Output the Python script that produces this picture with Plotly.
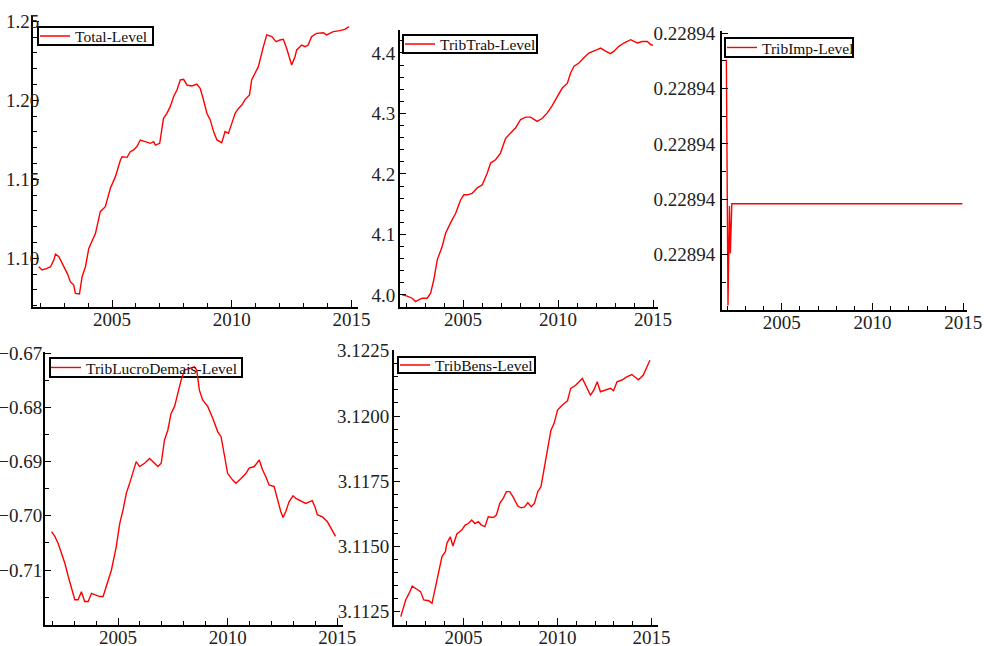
import plotly.graph_objects as go

# ---------------- data ----------------
series_names = ["Total-Level", "TribTrab-Level", "TribImp-Level",
                "TribLucroDemais-Level", "TribBens-Level"]

total_year = [2001.94, 2002.08, 2002.29, 2002.43, 2002.57, 2002.64, 2002.78, 2002.99,
              2003.13, 2003.26, 2003.40, 2003.47, 2003.64, 2003.75, 2003.89, 2004.03,
              2004.17, 2004.31, 2004.51, 2004.72, 2004.93, 2005.14, 2005.35, 2005.42,
              2005.63, 2005.76, 2005.90, 2006.04, 2006.18, 2006.46, 2006.60, 2006.74,
              2006.81, 2006.99, 2007.15, 2007.29, 2007.43, 2007.57, 2007.71, 2007.85,
              2007.99, 2008.13, 2008.33, 2008.54, 2008.68, 2008.82, 2008.96, 2009.10,
              2009.24, 2009.38, 2009.58, 2009.72, 2009.86, 2010.00, 2010.14, 2010.28,
              2010.42, 2010.56, 2010.74, 2010.83, 2010.97, 2011.11, 2011.32, 2011.46,
              2011.67, 2011.85, 2012.01, 2012.15, 2012.29, 2012.43, 2012.50, 2012.64,
              2012.71, 2012.92, 2013.06, 2013.19, 2013.33, 2013.54, 2013.82, 2013.96,
              2014.24, 2014.51, 2014.72, 2014.89]
total_level = [1.0947, 1.0926, 1.0937, 1.0947, 1.0989, 1.1027, 1.1011, 1.0947,
               1.0905, 1.0852, 1.0831, 1.0778, 1.0774, 1.0884, 1.0947, 1.1063,
               1.1116, 1.1158, 1.1295, 1.1327, 1.1443, 1.1517, 1.1622, 1.1643,
               1.1639, 1.1675, 1.1686, 1.1707, 1.1749, 1.1738, 1.1728, 1.1738,
               1.1717, 1.1728, 1.1886, 1.1918, 1.1960, 1.2023, 1.2065, 1.2129,
               1.2133, 1.2097, 1.2091, 1.2103, 1.2076, 1.2002, 1.1918, 1.1876,
               1.1802, 1.1749, 1.1732, 1.1802, 1.1791, 1.1854, 1.1918, 1.1949,
               1.1970, 1.2006, 1.2034, 1.2129, 1.2171, 1.2213, 1.2340, 1.2414,
               1.2403, 1.2371, 1.2382, 1.2386, 1.2329, 1.2255, 1.2224, 1.2276,
               1.2319, 1.2350, 1.2340, 1.2350, 1.2403, 1.2424, 1.2428, 1.2414,
               1.2435, 1.2441, 1.2449, 1.2466]

trab_year = [2001.80, 2002.06, 2002.32, 2002.50, 2002.68, 2002.85, 2003.11, 2003.29,
             2003.46, 2003.64, 2003.90, 2004.08, 2004.34, 2004.61, 2004.87, 2005.04,
             2005.22, 2005.48, 2005.75, 2006.01, 2006.27, 2006.45, 2006.71, 2006.97,
             2007.24, 2007.50, 2007.76, 2008.03, 2008.29, 2008.55, 2008.73, 2008.90,
             2009.17, 2009.43, 2009.69, 2009.96, 2010.22, 2010.49, 2010.66, 2010.84,
             2011.10, 2011.36, 2011.62, 2012.06, 2012.24, 2012.50, 2012.76, 2012.94,
             2013.20, 2013.46, 2013.82, 2014.17, 2014.43, 2014.70, 2014.87, 2015.00]
trab_level = [4.000, 3.998, 3.9945, 3.989, 3.992, 3.9945, 3.9945, 4.003,
              4.025, 4.058, 4.080, 4.102, 4.119, 4.135, 4.157, 4.1655,
              4.1655, 4.168, 4.177, 4.182, 4.201, 4.218, 4.2235, 4.2345,
              4.259, 4.2675, 4.276, 4.290, 4.294, 4.294, 4.291, 4.287,
              4.292, 4.301, 4.313, 4.328, 4.342, 4.350, 4.367, 4.378,
              4.3835, 4.392, 4.400, 4.4055, 4.408, 4.403, 4.399, 4.403,
              4.411, 4.4165, 4.422, 4.4165, 4.419, 4.419, 4.414, 4.4125]

imp_year = [2001.95, 2002.00, 2002.04, 2002.12, 2002.17, 2002.25, 2014.95]
imp_level = [0.22893976, 0.22893865, 0.22893754, 0.22893844, 0.22893801,
             0.22893846, 0.22893846]

lucro_year = [2001.97, 2002.12, 2002.27, 2002.42, 2002.58, 2002.73, 2002.88, 2003.03,
              2003.18, 2003.33, 2003.48, 2003.64, 2003.79, 2004.02, 2004.17, 2004.32,
              2004.47, 2004.70, 2004.92, 2005.08, 2005.23, 2005.38, 2005.53, 2005.68,
              2005.83, 2005.98, 2006.21, 2006.44, 2006.59, 2006.82, 2006.97, 2007.12,
              2007.27, 2007.42, 2007.58, 2007.73, 2007.88, 2008.03, 2008.26, 2008.48,
              2008.59, 2008.71, 2008.86, 2009.09, 2009.32, 2009.55, 2009.70, 2009.85,
              2010.00, 2010.23, 2010.38, 2010.61, 2010.83, 2010.98, 2011.21, 2011.44,
              2011.59, 2011.74, 2011.89, 2012.12, 2012.27, 2012.42, 2012.53, 2012.65,
              2012.80, 2012.98, 2013.11, 2013.26, 2013.56, 2013.86, 2013.98, 2014.09,
              2014.32, 2014.55, 2014.70, 2014.92]
lucro_level = [-0.7029, -0.7038, -0.7051, -0.7069, -0.7088, -0.7112, -0.7134, -0.7155,
               -0.7155, -0.7140, -0.7158, -0.7158, -0.7143, -0.7146, -0.7149, -0.7149,
               -0.7131, -0.7100, -0.7057, -0.7014, -0.6989, -0.6958, -0.6940, -0.6922,
               -0.6900, -0.6909, -0.6903, -0.6894, -0.6900, -0.6909, -0.6903, -0.6860,
               -0.6842, -0.6811, -0.6798, -0.6774, -0.6749, -0.6731, -0.6728, -0.6725,
               -0.6731, -0.6768, -0.6786, -0.6798, -0.6820, -0.6845, -0.6854, -0.6888,
               -0.6922, -0.6934, -0.6940, -0.6931, -0.6922, -0.6912, -0.6909, -0.6897,
               -0.6915, -0.6928, -0.6943, -0.6946, -0.6971, -0.6992, -0.7003, -0.6992,
               -0.6974, -0.6963, -0.6968, -0.6971, -0.6977, -0.6972, -0.6983, -0.6998,
               -0.7002, -0.7011, -0.7023, -0.7038]

bens_year = [2001.67, 2001.75, 2001.93, 2002.11, 2002.28, 2002.46, 2002.72, 2002.89,
             2003.16, 2003.33, 2003.51, 2003.68, 2003.86, 2004.04, 2004.12, 2004.30,
             2004.44, 2004.65, 2004.91, 2005.09, 2005.26, 2005.44, 2005.61, 2005.79,
             2005.96, 2006.14, 2006.32, 2006.58, 2006.75, 2006.93, 2007.11, 2007.28,
             2007.46, 2007.63, 2007.89, 2008.07, 2008.25, 2008.42, 2008.60, 2008.77,
             2008.95, 2009.12, 2009.30, 2009.47, 2009.65, 2009.82, 2010.00, 2010.26,
             2010.53, 2010.70, 2010.96, 2011.32, 2011.49, 2011.75, 2011.93, 2012.11,
             2012.28, 2012.54, 2012.81, 2012.98, 2013.16, 2013.42, 2013.68, 2013.95,
             2014.12, 2014.30, 2014.56, 2014.74, 2014.91]
bens_level = [3.11231, 3.11250, 3.11295, 3.11320, 3.11348, 3.11339, 3.11327, 3.11295,
              3.11292, 3.11282, 3.11346, 3.11397, 3.11461, 3.11480, 3.11512, 3.11537,
              3.11502, 3.11548, 3.11563, 3.11582, 3.11588, 3.11601, 3.11588, 3.11595,
              3.11582, 3.11576, 3.11614, 3.11611, 3.11620, 3.11665, 3.11684, 3.11710,
              3.11710, 3.11691, 3.11655, 3.11648, 3.11652, 3.11668, 3.11652, 3.11665,
              3.11710, 3.11729, 3.11806, 3.11882, 3.11946, 3.11972, 3.12023, 3.12042,
              3.12058, 3.12106, 3.12118, 3.12144, 3.12118, 3.12080, 3.12099, 3.12131,
              3.12093, 3.12099, 3.12106, 3.12097, 3.12131, 3.12138, 3.12150, 3.12159,
              3.12150, 3.12139, 3.12157, 3.12189, 3.12214]

# tick values
year_ticks = [2005, 2010, 2015]
total_ticks = [1.10, 1.15, 1.20, 1.25]
trab_ticks = [4.0, 4.1, 4.2, 4.3, 4.4]
imp_ticks = [0.2289380, 0.2289385, 0.2289390, 0.2289395, 0.2289400]
lucro_ticks = [-0.71, -0.70, -0.69, -0.68, -0.67]
bens_ticks = [3.1125, 3.1150, 3.1175, 3.1200, 3.1225]

# ---------------- layout ----------------
W, H = 984, 646
FONT = "Liberation Serif"
RED = "#ff0000"
TXT = "#222222"


def px_x(v):
    return v / W


def px_y(v):
    return 1 - v / H


panels = [
    dict(box=(33, 358, 15, 307), xr=[2001.70, 2015.27], yr=[1.0692, 1.254],
         ticks=total_ticks, fmt=".2f", mdt=0.01, so=-12, lsh=-3,
         leg=(38, 27, 153, 45), x=total_year, y=total_level),
    dict(box=(400, 658, 30, 307), xr=[2001.68, 2015.26], yr=[3.980, 4.438],
         ticks=trab_ticks, fmt=".1f", mdt=0.02, so=-1, lsh=-3,
         leg=(403, 35, 537, 53), x=trab_year, y=trab_level),
    dict(box=(722, 967, 31, 310), xr=[2001.71, 2015.20], yr=[0.2289375, 0.22894002],
         ticks=imp_ticks, fmt=".5f", mdt=2.5e-7, so=1, lsh=-3,
         leg=(725, 38, 853, 57), x=imp_year, y=imp_level),
    dict(box=(45, 343, 352, 625), xr=[2001.67, 2015.26], yr=[-0.72015, -0.66976],
         ticks=lucro_ticks, fmt=".2f", mdt=0.005, so=-3, lsh=-4,
         leg=(50, 358, 242, 377), x=lucro_year, y=lucro_level),
    dict(box=(394, 658, 350, 625), xr=[2001.31, 2015.34], yr=[3.11199, 3.12253],
         ticks=bens_ticks, fmt=".4f", mdt=0.0005, so=-1, lsh=-3,
         leg=(398, 357, 535, 373), x=bens_year, y=bens_level),
]

fig = go.Figure()
layout = dict(
    width=W, height=H, autosize=False,
    margin=dict(l=0, r=0, t=0, b=0, autoexpand=False),
    paper_bgcolor="white", plot_bgcolor="white",
    font=dict(family=FONT, size=19, color=TXT),
    showlegend=True,
)
shapes = []
LEG_FONT = 15.5
LEG_CENTER_OFFSET = 16.6

for i, (p, name) in enumerate(zip(panels, series_names), start=1):
    sfx = "" if i == 1 else str(i)
    legname = "legend" if i == 1 else f"legend{i}"
    fig.add_trace(go.Scatter(
        x=p["x"], y=p["y"], mode="lines", name=name,
        line=dict(color=RED, width=1.4),
        xaxis=f"x{sfx}", yaxis=f"y{sfx}", legend=legname,
        hoverinfo="skip",
    ))
    l, r, t, b = p["box"]
    layout[f"xaxis{sfx}"] = dict(
        domain=[px_x(l), px_x(r)], anchor=f"y{sfx}", range=p["xr"],
        tickmode="array", tickvals=year_ticks, tickformat="d",
        ticks="inside", ticklen=7, tickwidth=1.3, tickcolor="black",
        showline=True, linecolor="black", linewidth=2,
        showgrid=False, zeroline=False,
        minor=dict(ticks="inside", ticklen=4, tickwidth=1.2, tickcolor="black",
                   dtick=1, tick0=2000, showgrid=False),
        tickfont=dict(family=FONT, size=19, color=TXT),
        ticklabelstandoff=-6,
        fixedrange=True,
    )
    layout[f"yaxis{sfx}"] = dict(
        domain=[px_y(b), px_y(t)], anchor=f"x{sfx}", range=p["yr"],
        tickmode="array", tickvals=p["ticks"], tickformat=p["fmt"],
        ticks="inside", ticklen=6, tickwidth=1.3, tickcolor="black",
        showline=True, linecolor="black", linewidth=2,
        showgrid=False, zeroline=False,
        minor=dict(ticks="inside", ticklen=4, tickwidth=1.2, tickcolor="black",
                   dtick=p["mdt"], tick0=p["ticks"][0], showgrid=False),
        tickfont=dict(family=FONT, size=19, color=TXT),
        ticklabelstandoff=p["so"],
        fixedrange=True,
    )
    ll, lt, lr, lb = p["leg"]
    center = (lt + lb) / 2
    layout[legname] = dict(
        x=px_x(ll + p["lsh"]), y=px_y(center - LEG_CENTER_OFFSET),
        xanchor="left", yanchor="top",
        bgcolor="rgba(0,0,0,0)", borderwidth=0,
        font=dict(family=FONT, size=LEG_FONT, color="#111111"),
        itemwidth=30, tracegroupgap=0,
    )
    shapes.append(dict(
        type="rect", xref="paper", yref="paper",
        x0=px_x(ll), x1=px_x(lr), y0=px_y(lb), y1=px_y(lt),
        line=dict(color="black", width=2), fillcolor="white", layer="below",
    ))

layout["shapes"] = shapes
fig.update_layout(**layout)
fig.write_html(
    "out.html",
    config={"displayModeBar": False, "responsive": False},
    post_script="document.body.style.margin='0';document.documentElement.style.overflow='hidden';",
)
